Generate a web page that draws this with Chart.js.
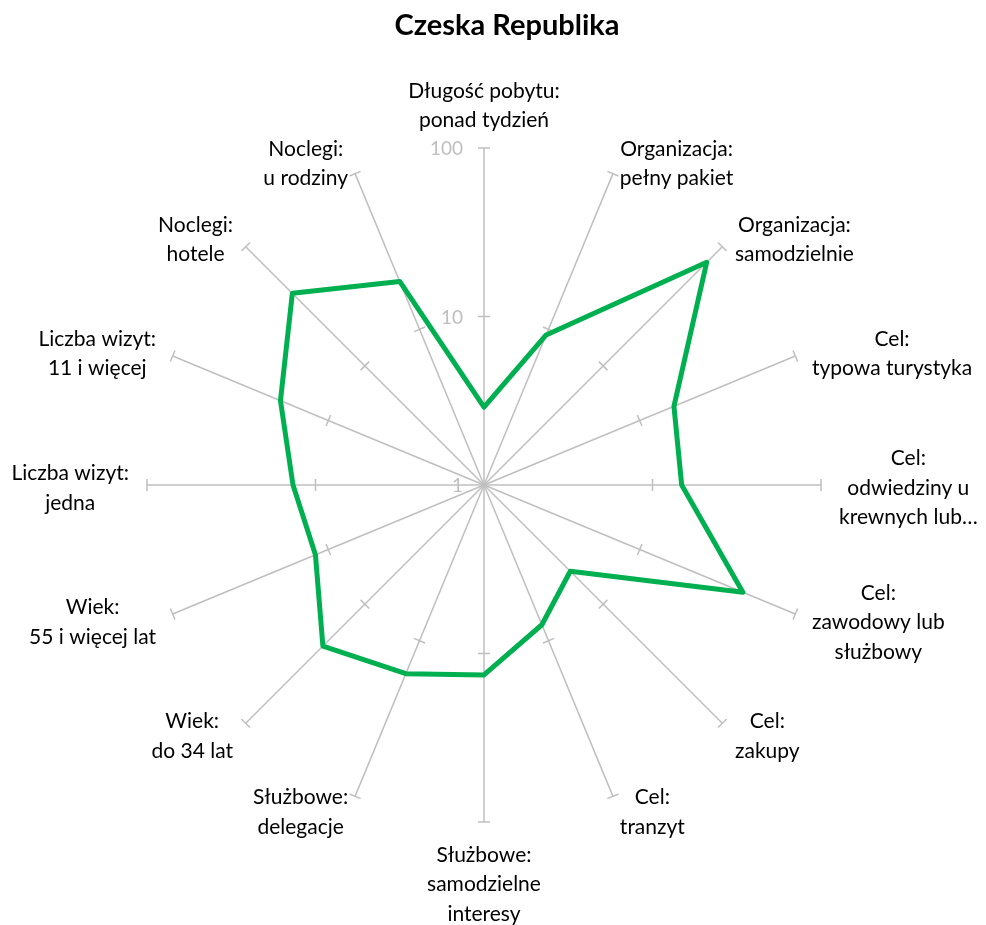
<!DOCTYPE html>
<html>
<head>
<meta charset="utf-8">
<script src="https://cdn.jsdelivr.net/npm/chart.js@4"></script>
<style>
  body { margin: 0; background: #fff; }
  #wrap { width: 986px; height: 925px; }
</style>
</head>
<body>
<div id="wrap"><canvas id="radarChart" width="986" height="925"></canvas></div>
<script>
// ==========================
// Data
// ==========================
const categories = [
  ['Długość pobytu:', 'ponad tydzień'],
  ['Organizacja:', 'pełny pakiet'],
  ['Organizacja:', 'samodzielnie'],
  ['Cel:', 'typowa turystyka'],
  ['Cel:', 'odwiedziny u', 'krewnych lub…'],
  ['Cel:', 'zawodowy lub', 'służbowy'],
  ['Cel:', 'zakupy'],
  ['Cel:', 'tranzyt'],
  ['Służbowe:', 'samodzielne', 'interesy'],
  ['Służbowe:', 'delegacje'],
  ['Wiek:', 'do 34 lat'],
  ['Wiek:', '55 i więcej lat'],
  ['Liczba wizyt:', 'jedna'],
  ['Liczba wizyt:', '11 i więcej'],
  ['Noclegi:', 'hotele'],
  ['Noclegi:', 'u rodziny']
];
const values = [2.9, 9.2, 74, 16.6, 14.9, 46, 5.3, 7.9, 13.4, 16.3, 22.5, 12.1, 13.6, 20.3, 40.6, 20.3];
const tickValues = [1, 10, 100];

const chartTitle = 'Czeska Republika';
const gridColor = '#bfbfbf';
const font = 'Lato, "Open Sans", sans-serif';

// ==========================
// Custom drawing: ticks on spokes, tick labels, point labels, title
// ==========================
const radarExtras = {
  id: 'radarExtras',
  beforeDatasetsDraw(chart) {
    const scale = chart.scales.r;
    const ctx = chart.ctx;
    ctx.save();
    ctx.strokeStyle = gridColor;
    ctx.lineWidth = 1.5;
    for (let i = 0; i < categories.length; i++) {
      const a = scale.getIndexAngle(i) - Math.PI / 2;
      const px = -Math.sin(a), py = Math.cos(a);
      tickValues.slice(1).forEach(v => {
        const p = scale.getPointPosition(i, scale.getDistanceFromCenterForValue(Math.log10(v)));
        ctx.beginPath();
        ctx.moveTo(p.x - px * 6, p.y - py * 6);
        ctx.lineTo(p.x + px * 6, p.y + py * 6);
        ctx.stroke();
      });
    }
    // tick labels on the vertical axis
    ctx.fillStyle = gridColor;
    ctx.font = '19px ' + font;
    ctx.textAlign = 'right';
    ctx.textBaseline = 'middle';
    tickValues.forEach(v => {
      const p = scale.getPointPosition(0, scale.getDistanceFromCenterForValue(Math.log10(v)));
      ctx.fillText(String(v), p.x - 21, p.y + 1);
    });
    ctx.restore();
  },
  afterDraw(chart) {
    const scale = chart.scales.r;
    const ctx = chart.ctx;
    const R = scale.drawingArea;
    const lineH = 29.5;
    ctx.save();
    ctx.fillStyle = '#000';
    ctx.font = '21px ' + font;
    ctx.textAlign = 'center';
    ctx.textBaseline = 'middle';
    categories.forEach((lines, i) => {
      const ang = i * 2 * Math.PI / categories.length;
      const s = Math.sin(ang), c = Math.cos(ang);
      const p = scale.getPointPosition(i, R);
      const w = Math.max(...lines.map(t => ctx.measureText(t).width));
      const h = lines.length * lineH;
      let cx, cy;
      if (Math.abs(s) < 0.1) {
        cx = p.x;
        cy = c > 0 ? p.y - 13 - h / 2 : p.y + 18 + h / 2;
      } else {
        const gap = 18 * Math.abs(s);
        cx = s > 0 ? p.x + gap + w / 2 : p.x - gap - w / 2;
        cy = p.y + 3 - 14 * c;
      }
      lines.forEach((t, k) => {
        ctx.fillText(t, cx, cy + (k - (lines.length - 1) / 2) * lineH);
      });
    });
    // title
    ctx.font = 'bold 29px ' + font;
    ctx.fillText(chartTitle, 507, 26);
    ctx.restore();
  }
};

// ==========================
// Radar chart (log scale through log10 values)
// ==========================
new Chart(document.getElementById('radarChart').getContext('2d'), {
  type: 'radar',
  data: {
    labels: categories,
    datasets: [{
      data: values.map(v => Math.log10(v)),
      borderColor: '#00b050',
      borderWidth: 5,
      borderJoinStyle: 'round',
      fill: false,
      pointRadius: 0,
      tension: 0
    }]
  },
  options: {
    responsive: false,
    animation: false,
    layout: { padding: { top: 148, bottom: 103, left: 100, right: 118 } },
    plugins: {
      legend: { display: false },
      title: { display: false },
      tooltip: { enabled: false }
    },
    scales: {
      r: {
        min: 0,
        max: 2,
        ticks: { display: false, stepSize: 1 },
        grid: { display: false },
        angleLines: { color: gridColor, lineWidth: 1.5 },
        pointLabels: { display: false }
      }
    }
  },
  plugins: [radarExtras]
});
</script>
</body>
</html>
